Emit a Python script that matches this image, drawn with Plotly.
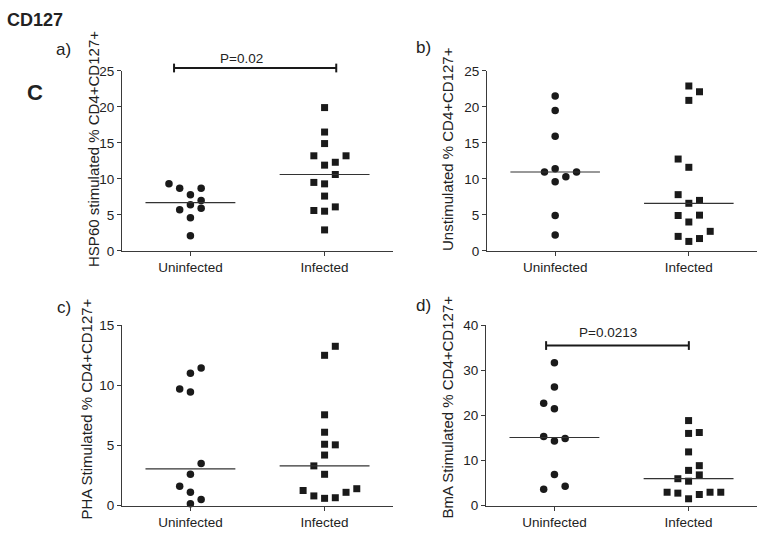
import numpy as np
import plotly.graph_objects as go

W, H = 762, 543

groups = ["Uninfected", "Infected"]

# a) HSP60 stimulated
hsp60_uninf = [9.3, 8.7, 8.7, 7.8, 7.0, 6.4, 5.7, 5.9, 4.6, 2.1]
hsp60_uninf_slot = [-2, -1, 1, 0, 1, 0, -1, 1, 0, 0]
hsp60_inf = [19.9, 16.5, 14.9, 13.2, 13.2, 11.9, 12.3, 10.6, 9.5, 9.3, 7.6, 5.6, 5.5, 6.1, 2.9]
hsp60_inf_slot = [0, 0, 0, -1, 2, 0, 1, 1, -1, 0, 0, -1, 0, 1, 0]

# b) Unstimulated
unstim_uninf = [21.5, 19.5, 15.9, 11.4, 10.95, 10.95, 10.3, 9.6, 4.9, 2.2]
unstim_uninf_slot = [0, 0, 0, 0, -1, 2, 1, 0, 0, 0]
unstim_inf = [22.9, 22.1, 20.9, 12.75, 11.6, 7.8, 7.0, 6.6, 4.9, 4.95, 4.0, 2.7, 2.0, 1.7, 1.3]
unstim_inf_slot = [0, 1, 0, -1, 0, -1, 1, 0, -1, 1, 0, 2, -1, 1, 0]

# c) PHA stimulated
pha_uninf = [11.45, 11.0, 9.7, 9.45, 3.5, 2.6, 1.6, 1.1, 0.5, 0.15]
pha_uninf_slot = [1, 0, -1, 0, 1, 0, -1, 0, 1, 0]
pha_inf = [13.25, 12.5, 7.55, 6.1, 5.1, 5.05, 4.2, 3.3, 2.6, 1.25, 0.8, 0.6, 0.65, 1.1, 1.4]
pha_inf_slot = [1, 0, 0, 0, 0, 1, 0, -1, 0, -2, -1, 0, 1, 2, 3]

# d) BmA stimulated
bma_uninf = [31.7, 26.3, 22.7, 21.5, 15.3, 14.9, 14.3, 6.9, 4.3, 3.6]
bma_uninf_slot = [0, 0, -1, 0, -1, 1, 0, 0, 1, -1]
bma_inf = [18.85, 16.0, 16.2, 11.9, 7.8, 8.85, 6.8, 5.95, 5.4, 2.95, 2.75, 1.5, 2.45, 2.95, 2.95]
bma_inf_slot = [0, 0, 1, 0, 0, 1, 1, -1, 0, -2, -1, 0, 1, 2, 3]

panels = [
    dict(label="a)", uninf=hsp60_uninf, us=hsp60_uninf_slot, inf=hsp60_inf, ins=hsp60_inf_slot,
         ymax=25, dtick=5, title="HSP60 stimulated % CD4+CD127+",
         xpx=(122, 393), ypx=(65.7, 250.7), title_at=(94, 146), label_at=(63.5, 44),
         p=dict(text="P=0.02", x0=-0.122, x1=0.087, y=25.4, tx=241.7, ty=52.5)),
    dict(label="b)", uninf=unstim_uninf, us=unstim_uninf_slot, inf=unstim_inf, ins=unstim_inf_slot,
         ymax=25, dtick=5, title="Unstimulated % CD4+CD127+",
         xpx=(487, 757), ypx=(65.7, 250.7), title_at=(448, 146), label_at=(423.5, 41.5), p=None),
    dict(label="c)", uninf=pha_uninf, us=pha_uninf_slot, inf=pha_inf, ins=pha_inf_slot,
         ymax=15, dtick=5, title="PHA Stimulated % CD4+CD127+",
         xpx=(122, 393), ypx=(327.3, 512.7), title_at=(87, 414), label_at=(64, 309.5), p=None),
    dict(label="d)", uninf=bma_uninf, us=bma_uninf_slot, inf=bma_inf, ins=bma_inf_slot,
         ymax=40, dtick=10, title="BmA Stimulated % CD4+CD127+",
         xpx=(486, 757), ypx=(327.3, 512.7), title_at=(448, 412), label_at=(423.5, 306.5),
         p=dict(text="P=0.0213", x0=-0.062, x1=0.002, y=35.5, tx=608, ty=334.5)),
]

STEP = 0.08
HALF = 0.335
INK = "#1a1a1a"
AXC = "#3a3a3a"
FONT = "Liberation Sans, Arial, sans-serif"

fig = go.Figure()
annotations = []
shapes = []
layout = {}


def px_x(x):
    return x / W


def px_y(y):
    return 1 - y / H


for i, p in enumerate(panels, start=1):
    xa = "x" if i == 1 else f"x{i}"
    ya = "y" if i == 1 else f"y{i}"
    for cat, vals, slots, sym, size in [
        (1, p["uninf"], p["us"], "circle", 7.5),
        (2, p["inf"], p["ins"], "square", 7),
    ]:
        xs = [cat + s * STEP for s in slots]
        fig.add_trace(go.Scatter(
            x=xs, y=vals, mode="markers", xaxis=xa, yaxis=ya, showlegend=False,
            cliponaxis=False, marker=dict(symbol=sym, size=size, color=INK, line=dict(width=0)),
        ))
        med = float(np.median(vals))
        fig.add_trace(go.Scatter(
            x=[cat - HALF, cat + HALF], y=[med, med], mode="lines", xaxis=xa, yaxis=ya,
            showlegend=False, line=dict(color="#333333", width=1.2), hoverinfo="skip",
        ))

    axis_common = dict(showline=True, linecolor=AXC, linewidth=1.2, ticks="outside",
                       ticklen=4, tickcolor=AXC, tickwidth=1.2, showgrid=False, zeroline=False,
                       tickfont=dict(family=FONT, size=13.5, color="#222222"))
    layout["xaxis" if i == 1 else f"xaxis{i}"] = dict(
        axis_common, domain=[px_x(p["xpx"][0]), px_x(p["xpx"][1])], range=[0.49, 2.51],
        tickvals=[1, 2], ticktext=groups, anchor=ya, fixedrange=True,
    )
    layout["yaxis" if i == 1 else f"yaxis{i}"] = dict(
        axis_common, domain=[px_y(p["ypx"][1]), px_y(p["ypx"][0])], range=[0, p["ymax"]],
        tickvals=list(range(0, p["ymax"] + 1, p["dtick"])), anchor=xa, fixedrange=True,
    )

    annotations.append(dict(
        text=p["title"], textangle=-90, xref="paper", yref="paper",
        x=px_x(p["title_at"][0]), y=px_y(p["title_at"][1]), showarrow=False,
        xanchor="center", yanchor="middle", font=dict(family=FONT, size=15, color="#222222"),
    ))
    annotations.append(dict(
        text=p["label"], xref="paper", yref="paper",
        x=px_x(p["label_at"][0]), y=px_y(p["label_at"][1]), showarrow=False,
        xanchor="center", yanchor="middle", font=dict(family=FONT, size=17, color="#222222"),
    ))

    if p["p"]:
        b = p["p"]
        yd = b["y"] / p["ymax"]
        yref = f"{ya} domain"
        cap = 4.5 / (p["ypx"][1] - p["ypx"][0])
        bx0, bx1 = 1 + b["x0"], 2 + b["x1"]
        shapes.append(dict(type="line", xref=xa, yref=yref, x0=bx0, x1=bx1, y0=yd, y1=yd,
                           line=dict(color=INK, width=2)))
        for bx in (bx0, bx1):
            shapes.append(dict(type="line", xref=xa, yref=yref, x0=bx, x1=bx,
                               y0=yd - cap, y1=yd + cap, line=dict(color=INK, width=2)))
        annotations.append(dict(
            text=b["text"], xref="paper", yref="paper", x=px_x(b["tx"]), y=px_y(b["ty"]),
            showarrow=False, xanchor="center", yanchor="middle",
            font=dict(family=FONT, size=13.5, color="#222222"),
        ))

annotations.append(dict(text="<b>CD127</b>", xref="paper", yref="paper", x=px_x(34.5), y=px_y(13.5),
                        showarrow=False, xanchor="center", yanchor="middle",
                        font=dict(family=FONT, size=18, color="#222222")))
annotations.append(dict(text="<b>C</b>", xref="paper", yref="paper", x=px_x(34.5), y=px_y(88),
                        showarrow=False, xanchor="center", yanchor="middle",
                        font=dict(family=FONT, size=22, color="#222222")))

fig.update_layout(
    width=W, height=H, margin=dict(l=0, r=0, t=0, b=0),
    paper_bgcolor="white", plot_bgcolor="white",
    annotations=annotations, shapes=shapes, **layout,
)

# page body has a default 8px margin; drop it so figure pixels line up with the window
fig.write_html("out.html", config=dict(displayModeBar=False),
               post_script="document.body.style.margin='0px';")
